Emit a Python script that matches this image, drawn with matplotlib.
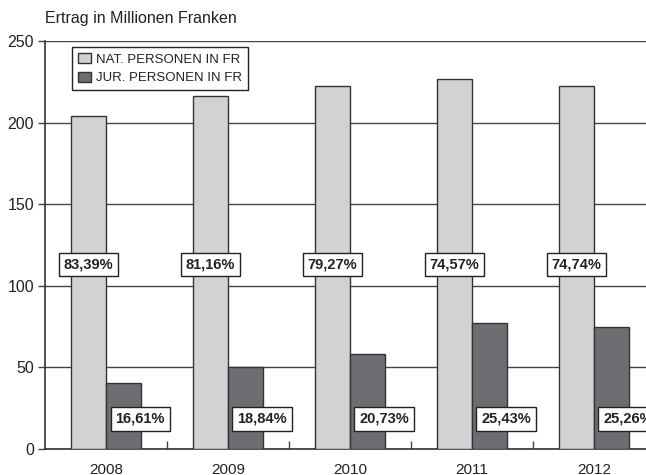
import matplotlib.pyplot as plt
import numpy as np

years = ['2008', '2009', '2010', '2011', '2012']
nat_personen = [204.0, 216.3, 222.2, 226.9, 222.2]
jur_personen = [40.2, 50.0, 58.0, 77.5, 75.0]
nat_share = ['83,39%', '81,16%', '79,27%', '74,57%', '74,74%']
jur_share = ['16,61%', '18,84%', '20,73%', '25,43%', '25,26%']

plt.rcParams['font.family'] = ['Liberation Sans', 'DejaVu Sans']
plt.rcParams['text.color'] = '#222222'

fig = plt.figure(figsize=(6.46, 4.75), dpi=100)
ax = fig.add_axes([0.0697, 0.0547, 0.9443, 0.859])

x = np.arange(len(years))
w = 0.287
edge = '#333333'
ax.bar(x - w / 2, nat_personen, w, color='#d1d2d4', edgecolor=edge, linewidth=1.0,
       label='NAT. PERSONEN IN FR', zorder=3)
ax.bar(x + w / 2, jur_personen, w, color='#6d6e71', edgecolor=edge, linewidth=1.0,
       label='JUR. PERSONEN IN FR', zorder=3)

# share labels: one box on each light bar, one right of each dark bar
box = dict(boxstyle='square,pad=0.33', facecolor='white', edgecolor='#222222', linewidth=1.0)
for i in range(len(years)):
    ax.text(x[i] - w / 2, 113, nat_share[i], ha='center', va='center', fontsize=10.5,
            fontweight='bold', bbox=box, zorder=5)
    ax.text(x[i] + w / 2 + 0.135, 18.4, jur_share[i], ha='center', va='center', fontsize=10.5,
            fontweight='bold', bbox=box, zorder=5)

ax.set_xlim(-0.5, 4.5)
ax.set_ylim(0, 250)
ax.set_yticks([0, 50, 100, 150, 200, 250])
ax.yaxis.grid(True, color='#444444', linewidth=1.0, zorder=0)
ax.set_axisbelow(True)

ax.set_xticks(x)
ax.set_xticklabels(years)
ax.set_xticks(x[:-1] + 0.5, minor=True)
ax.tick_params(axis='x', which='major', length=0, pad=10, labelsize=11, labelcolor='#222222')
ax.tick_params(axis='x', which='minor', direction='in', length=6, width=1.0, color='#444444')
ax.tick_params(axis='y', length=5, width=1.0, color='#444444', labelsize=11.5,
               labelcolor='#222222', pad=3)

for s in ['top', 'right']:
    ax.spines[s].set_visible(False)
ax.spines['left'].set_color('#333333')
ax.spines['bottom'].set_color('#333333')
ax.spines['left'].set_linewidth(1.2)
ax.spines['bottom'].set_linewidth(1.2)

leg = ax.legend(loc='upper left', bbox_to_anchor=(0.0443, 0.985), borderaxespad=0,
                fontsize=9.5, frameon=True, fancybox=False, edgecolor='#222222',
                framealpha=1, handlelength=1.0, handleheight=0.8, handletextpad=0.4,
                borderpad=0.45, labelspacing=0.45)
leg.get_frame().set_linewidth(1.0)

fig.text(45 / 646, 1 - 18 / 475, 'Ertrag in Millionen Franken', fontsize=11.5,
         ha='left', va='center', color='#222222')

fig.savefig('out.png', dpi=100)
